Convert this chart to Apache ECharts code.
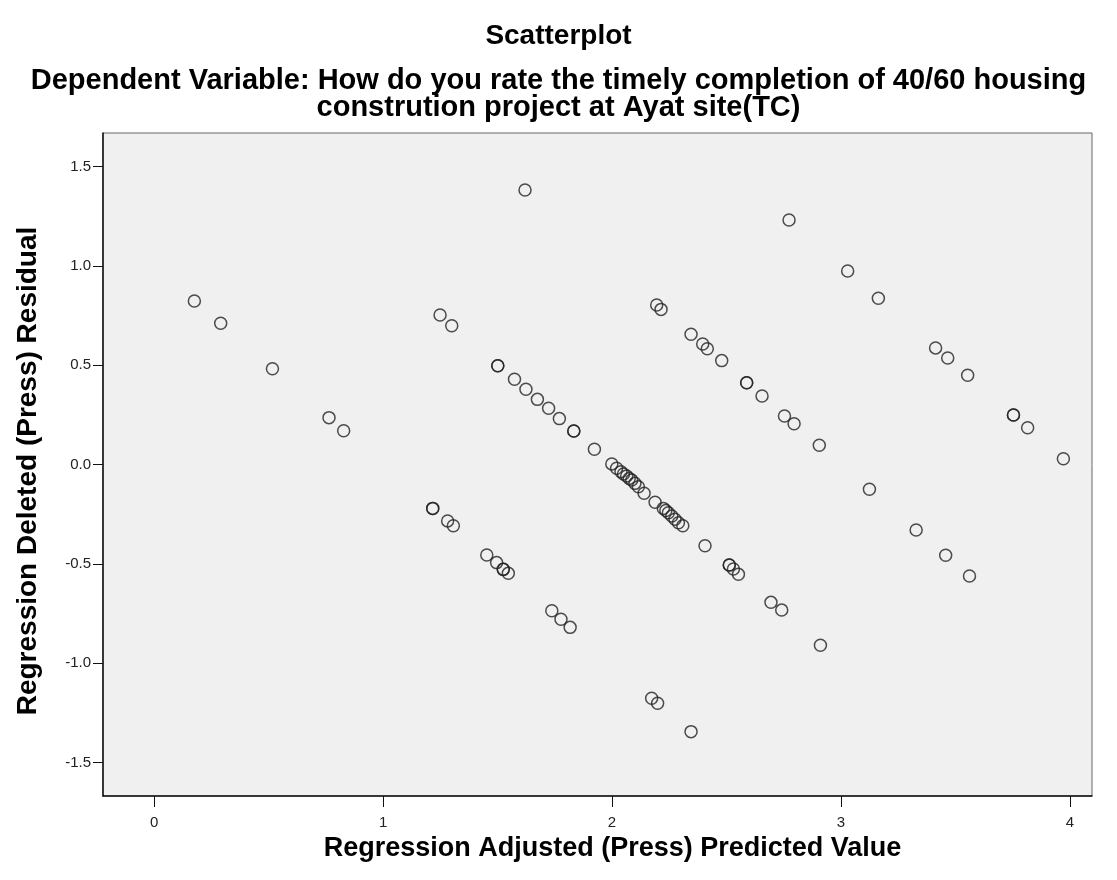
<!DOCTYPE html>
<html>
<head>
<meta charset="utf-8">
<title>Scatterplot</title>
<script src="https://cdn.jsdelivr.net/npm/echarts@6/dist/echarts.min.js"></script>
<style>
  html, body { margin: 0; padding: 0; background: #fff; }
  #chart { width: 1117px; height: 880px; }
</style>
</head>
<body>
<div id="chart"></div>
<script>
// predicted values (x) and deleted residuals (y)
const predicted = [
  0.176, 0.291, 0.517, 0.764, 0.828, 1.249, 1.300,
  1.620, 2.195, 2.214, 2.345, 2.396, 2.416, 2.479, 2.588, 2.588, 2.655, 2.753, 2.795, 2.905,
  1.501, 1.501, 1.574, 1.624, 1.674, 1.723, 1.770, 1.833, 1.833, 1.923,
  2.773, 3.029, 3.163, 3.413, 3.466, 3.553, 3.753, 3.753, 3.815, 3.971,
  3.124, 3.328, 3.457, 3.561, 2.741, 2.910,
  1.217, 1.217, 1.282, 1.307,
  1.999, 2.020, 2.039, 2.050, 2.064, 2.075, 2.086, 2.100, 2.115, 2.140, 2.188,
  2.224, 2.235, 2.246, 2.261, 2.275, 2.290, 2.309,
  2.406, 2.512, 2.512, 2.530, 2.552, 2.694,
  1.453, 1.496, 1.525, 1.525, 1.547, 1.737, 1.777, 1.817,
  2.173, 2.199, 2.345
]
const residual = [
  0.823, 0.711, 0.482, 0.236, 0.170, 0.753, 0.699,
  1.382, 0.803, 0.781, 0.656, 0.607, 0.583, 0.523, 0.412, 0.412, 0.345, 0.244, 0.205, 0.097,
  0.497, 0.497, 0.429, 0.379, 0.328, 0.283, 0.231, 0.169, 0.169, 0.077,
  1.231, 0.974, 0.837, 0.587, 0.536, 0.449, 0.249, 0.249, 0.185, 0.029,
  -0.125, -0.330, -0.457, -0.561, -0.733, -0.910,
  -0.221, -0.221, -0.284, -0.308,
  0.003, -0.019, -0.036, -0.048, -0.058, -0.070, -0.078, -0.095, -0.112, -0.145, -0.190,
  -0.221, -0.232, -0.243, -0.259, -0.276, -0.293, -0.308,
  -0.409, -0.506, -0.506, -0.526, -0.553, -0.694,
  -0.456, -0.494, -0.528, -0.528, -0.548, -0.736, -0.779, -0.820,
  -1.177, -1.202, -1.345
]
const xTicks = [0, 1, 2, 3, 4]
const yTicks = [-1.5, -1.0, -0.5, 0.0, 0.5, 1.0, 1.5]

const font = 'Liberation Sans, Arial, sans-serif'
const points = predicted.map((x, i) => [x, residual[i]])

function titleLine(text, top, size) {
  return {
    text,
    left: 'center',
    top,
    padding: 0,
    textStyle: { fontSize: size, fontWeight: 'bold', color: '#000', fontFamily: font, lineHeight: size }
  }
}

const chart = echarts.init(document.getElementById('chart'))
chart.setOption({
  animation: false,
  backgroundColor: '#fff',
  title: [
    titleLine('Scatterplot', 22, 28),
    titleLine('Dependent Variable: How do you rate the timely completion of 40/60 housing', 66, 29),
    titleLine('constrution project at Ayat site(TC)', 93, 29)
  ],
  grid: {
    left: 103,
    right: 25,
    top: 133,
    bottom: 84,
    show: true,
    backgroundColor: '#f0f0f0',
    borderColor: '#666',
    borderWidth: 1
  },
  xAxis: {
    type: 'value',
    min: -0.223,
    max: 4.096,
    name: 'Regression Adjusted (Press) Predicted Value',
    nameLocation: 'middle',
    nameGap: 36,
    nameTextStyle: {
      fontSize: 27, fontWeight: 'bold', color: '#000', fontFamily: font,
      padding: [0, 0, 0, 30]
    },
    axisLine: { show: true, onZero: false, lineStyle: { color: '#111', width: 1.5 } },
    axisTick: { show: true, length: 11, customValues: xTicks, lineStyle: { color: '#111' } },
    axisLabel: { customValues: xTicks, fontSize: 15, color: '#222', fontFamily: font, margin: 19 },
    splitLine: { show: false }
  },
  yAxis: {
    type: 'value',
    min: -1.669,
    max: 1.669,
    name: 'Regression Deleted (Press) Residual',
    nameLocation: 'middle',
    nameGap: 61,
    nameTextStyle: {
      fontSize: 28, fontWeight: 'bold', color: '#000', fontFamily: font,
      padding: [0, 13, 0, 0]
    },
    axisLine: { show: true, onZero: false, lineStyle: { color: '#111', width: 1.5 } },
    axisTick: { show: true, length: 10, customValues: yTicks, lineStyle: { color: '#111' } },
    axisLabel: {
      customValues: yTicks,
      fontSize: 15,
      color: '#222',
      fontFamily: font,
      margin: 12,
      formatter: v => v.toFixed(1)
    },
    splitLine: { show: false }
  },
  series: [{
    type: 'scatter',
    data: points,
    symbol: 'circle',
    symbolSize: 12,
    itemStyle: { color: 'transparent', borderColor: '#222', borderWidth: 1.5 }
  }]
})
</script>
</body>
</html>
